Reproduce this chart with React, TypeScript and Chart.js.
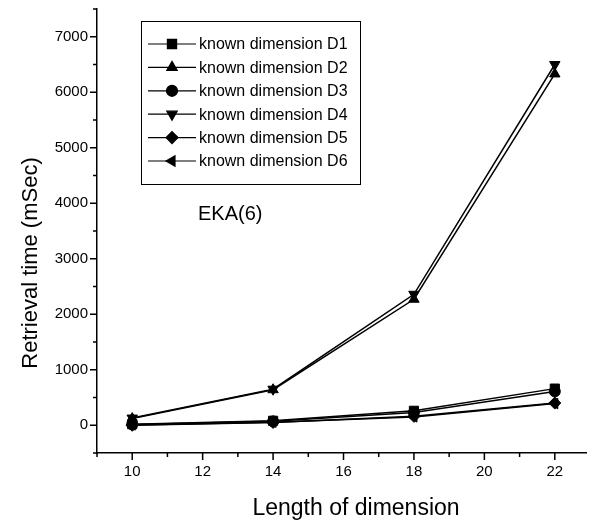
import React, { useEffect, useRef } from 'react';
import { Chart, registerables } from 'chart.js';
import { drawPoint } from 'chart.js/helpers';

Chart.register(...registerables);

// ---- data ----
const lengths = [10, 14, 18, 22];
const seriesLabels = [
  'known dimension D1',
  'known dimension D2',
  'known dimension D3',
  'known dimension D4',
  'known dimension D5',
  'known dimension D6',
];
const d1 = [20, 80, 260, 660];
const d2 = [120, 640, 2270, 6330];
const d3 = [15, 70, 230, 610];
const d4 = [130, 650, 2360, 6500];
const d5 = [0, 50, 160, 400];
const d6 = [5, 55, 150, 390];
const seriesValues = [d1, d2, d3, d4, d5, d6];
const pointStyles = ['rect', 'triangle', 'circle', 'triangle', 'rectRot', 'triangle'];
const pointRotations = [0, 0, 0, 180, 0, -90];
const pointRadii = [6.5, 6, 5.5, 6, 6, 6];

const xTickValues = [9, 10, 11, 12, 13, 14, 15, 16, 17, 18, 19, 20, 21, 22];
const xLabelValues = [10, 12, 14, 16, 18, 20, 22];
const yTickValues = [-500, 0, 500, 1000, 1500, 2000, 2500, 3000, 3500, 4000, 4500, 5000, 5500, 6000, 6500, 7000, 7500];
const yLabelValues = [0, 1000, 2000, 3000, 4000, 5000, 6000, 7000];
const annotationText = 'EKA(6)';
const xTitle = 'Length of dimension';
const yTitle = 'Retrieval time (mSec)';

const FONT = "'Liberation Sans', Arial, sans-serif";

const ticksPlugin = {
  id: 'customTicks',
  afterDraw(chart: any) {
    const ctx = chart.ctx;
    const xs = chart.scales.x;
    const ys = chart.scales.y;
    const area = chart.chartArea;
    ctx.save();
    ctx.strokeStyle = '#000';
    ctx.lineWidth = 1.5;
    ctx.beginPath();
    xTickValues.forEach((v) => {
      const px = xs.getPixelForValue(v);
      const len = xLabelValues.includes(v) ? 7 : 4;
      ctx.moveTo(px, area.bottom);
      ctx.lineTo(px, area.bottom + len);
    });
    yTickValues.forEach((v) => {
      const py = ys.getPixelForValue(v);
      const len = yLabelValues.includes(v) ? 7 : 4;
      ctx.moveTo(area.left, py);
      ctx.lineTo(area.left - len, py);
    });
    ctx.stroke();

    // axis titles
    ctx.fillStyle = '#000';
    ctx.textAlign = 'center';
    ctx.textBaseline = 'middle';
    ctx.font = `23px ${FONT}`;
    ctx.fillText(xTitle, 356, 509);
    ctx.translate(31, 263);
    ctx.rotate(-Math.PI / 2);
    ctx.font = `22px ${FONT}`;
    ctx.fillText(yTitle, 0, 0);
    ctx.restore();
  },
};

const legendPlugin = {
  id: 'boxLegend',
  afterDraw(chart: any) {
    const ctx = chart.ctx;
    ctx.save();
    const boxL = 141, boxT = 21, boxR = 360, boxB = 184;
    ctx.strokeStyle = '#000';
    ctx.lineWidth = 1;
    ctx.strokeRect(boxL + 0.5, boxT + 0.5, boxR - boxL, boxB - boxT);
    ctx.font = `16px ${FONT}`;
    ctx.textBaseline = 'middle';
    ctx.textAlign = 'left';
    ctx.fillStyle = '#000';
    chart.data.datasets.forEach((ds: any, i: number) => {
      const y = 44 + i * 23.4;
      ctx.beginPath();
      ctx.strokeStyle = '#000';
      ctx.lineWidth = 1.2;
      ctx.moveTo(148, y);
      ctx.lineTo(196, y);
      ctx.stroke();
      ctx.fillStyle = '#000';
      drawPoint(ctx, { pointStyle: ds.pointStyle, rotation: ds.pointRotation, radius: ds.pointRadius, borderWidth: 1 } as any, 172, y);
      ctx.fillStyle = '#000';
      ctx.fillText(ds.label, 199, y + 1);
    });
    ctx.font = `20px ${FONT}`;
    ctx.fillText(annotationText, 198, 214);
    ctx.restore();
  },
};

export default function App() {
  const ref = useRef<HTMLCanvasElement>(null);
  useEffect(() => {
    document.body.style.margin = '0';
    const chart = new Chart(ref.current!, {
      type: 'line',
      data: {
        datasets: seriesValues.map((vals, i) => ({
          label: seriesLabels[i],
          data: lengths.map((x, j) => ({ x, y: vals[j] })),
          borderColor: '#000',
          backgroundColor: '#000',
          borderWidth: 1.5,
          pointStyle: pointStyles[i] as any,
          pointRotation: pointRotations[i],
          pointRadius: pointRadii[i],
          pointBackgroundColor: '#000',
          pointBorderColor: '#000',
          pointBorderWidth: 1,
          tension: 0,
          clip: false as any,
        })),
      },
      options: {
        responsive: false,
        animation: false,
        layout: { padding: { top: 9, right: 0, left: 0, bottom: 0 } },
        plugins: { legend: { display: false }, tooltip: { enabled: false } },
        scales: {
          x: {
            type: 'linear',
            min: 9,
            max: 22.9,
            afterBuildTicks: (s: any) => {
              s.ticks = xTickValues.map((v) => ({ value: v }));
            },
            afterFit: (s: any) => {
              s.height = 78;
              s.paddingLeft = 0;
              s.paddingRight = 0;
            },
            ticks: {
              autoSkip: false,
              maxRotation: 0,
              padding: 10,
              color: '#000',
              font: { family: FONT, size: 15 },
              callback: (v: any) => (xLabelValues.includes(Number(v)) ? String(v) : ''),
            },
            grid: { display: true, drawOnChartArea: false, drawTicks: false },
            border: { display: true, color: '#000', width: 1.5 },
            title: { display: false },
          },
          y: {
            type: 'linear',
            min: -500,
            max: 7500,
            afterBuildTicks: (s: any) => {
              s.ticks = yTickValues.map((v) => ({ value: v }));
            },
            afterFit: (s: any) => {
              s.width = 97;
              s.paddingTop = 0;
              s.paddingBottom = 0;
            },
            ticks: {
              autoSkip: false,
              padding: 9,
              color: '#000',
              font: { family: FONT, size: 15 },
              callback: (v: any) => (yLabelValues.includes(Number(v)) ? String(v) : ''),
            },
            grid: { display: true, drawOnChartArea: false, drawTicks: false },
            border: { display: true, color: '#000', width: 1.5 },
            title: { display: false },
          },
        },
      },
      plugins: [ticksPlugin, legendPlugin],
    });
    return () => chart.destroy();
  }, []);
  return (
    <div style={{ width: 594, height: 531 }}>
      <canvas ref={ref} width={594} height={531} style={{ width: 594, height: 531, display: 'block' }} />
    </div>
  );
}
